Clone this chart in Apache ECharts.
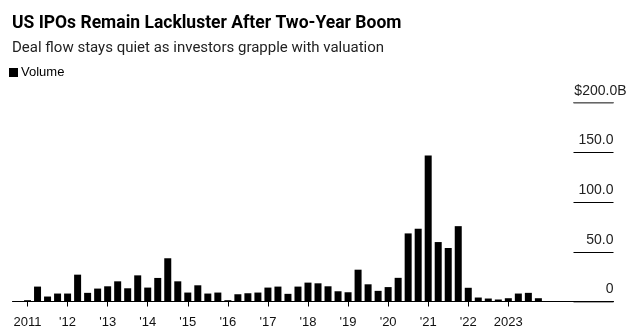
<!DOCTYPE html>
<html>
<head>
<meta charset="utf-8">
<script src="https://cdn.jsdelivr.net/npm/echarts@6/dist/echarts.min.js"></script>
<style>html,body{margin:0;padding:0;background:#fff;}#c{width:635px;height:330px;}</style>
</head>
<body>
<div id="c"></div>
<script>
const years = [2011,2012,2013,2014,2015,2016,2017,2018,2019,2020,2021,2022,2023];
const quarters = ['Q1','Q2','Q3','Q4'];
const volume = [
  1.3, 15, 5, 8,
  8, 27, 8.7, 13,
  15.3, 20.3, 13.3, 26.3,
  14, 23.7, 43.5, 20.3,
  9, 16.3, 8, 9,
  1.3, 7.3, 8.3, 9,
  14, 15, 7.7, 15,
  19, 18.3, 15.3, 10.3,
  9.3, 32, 17.3, 10.7,
  14.5, 23.8, 68.5, 73.2,
  147, 59.8, 53.8, 75.8,
  13.8, 4, 3, 2,
  3.3, 8, 8.7, 3.3
];
const yTicks = [0, 50, 100, 150, 200];
const yTickLabels = ['0', '50.0', '100.0', '150.0', '$200.0B'];
const padBefore = 1, padAfter = 7;

const categories = [];
const values = [];
for (let i = 0; i < padBefore; i++) { categories.push('pre' + i); values.push(null); }
years.forEach((y, yi) => quarters.forEach((q, qi) => {
  categories.push(y + q);
  values.push(volume[yi * 4 + qi]);
}));
for (let i = 0; i < padAfter; i++) { categories.push('post' + i); values.push(null); }

function isYearStart(v) { return /^\d{4}Q1$/.test(v); }
function yearLabel(v) {
  const y = parseInt(v.slice(0, 4));
  if (y === years[0] || y === years[years.length - 1]) return String(y);
  return "'" + String(y).slice(2);
}
const font = "'Liberation Sans', Arial, sans-serif";
const headFont = "Roboto, 'Liberation Sans', Arial, sans-serif";
const chart = echarts.init(document.getElementById('c'), null, {renderer: 'canvas'});
chart.setOption({
  animation: false,
  backgroundColor: '#fff',
  title: [{
    text: 'US IPOs Remain Lackluster After Two-Year Boom',
    left: 7, top: 10,
    textStyle: {fontFamily: headFont, fontWeight: 'bold', fontSize: 17.5, color: '#000'}
  }, {
    text: 'Deal flow stays quiet as investors grapple with valuation',
    left: 7, top: 36,
    textStyle: {fontFamily: headFont, fontWeight: 'normal', fontSize: 15, color: '#222'}
  }],
  legend: {
    left: 4, top: 61, icon: 'rect', itemWidth: 9, itemHeight: 9, itemGap: 10,
    textStyle: {fontFamily: font, fontSize: 13, color: '#000', padding: [0,0,0,-2]},
    data: ['Volume']
  },
  grid: {left: 12.5, right: 21.5, top: 102.7, bottom: 28.5, containLabel: false},
  xAxis: {
    type: 'category', data: categories, boundaryGap: true, z: 5,
    axisLine: {show: true, lineStyle: {color: '#000', width: 1}},
    axisTick: {show: true, alignWithLabel: true, length: 5, lineStyle: {color: '#000'},
      interval: (i, v) => isYearStart(v)},
    axisLabel: {show: true, interval: (i, v) => isYearStart(v), formatter: v => yearLabel(v),
      margin: 14, fontFamily: font, fontSize: 13, color: '#111'},
    splitLine: {show: false}
  },
  yAxis: [{
    type: 'value', position: 'right', min: 0, max: 200, interval: 50,
    axisLine: {show: false},
    axisTick: {show: true, inside: true, length: 40, lineStyle: {color: '#000', width: 1}},
    axisLabel: {show: true, inside: true, margin: 0, verticalAlign: 'bottom', padding: [0,0,5,0],
      fontFamily: font, fontSize: 14, color: '#222',
      formatter: v => v === 200 ? '' : yTickLabels[yTicks.indexOf(v)]},
    splitLine: {show: false}
  }, {
    type: 'value', position: 'right', min: 0, max: 200, interval: 200,
    axisLine: {show: false},
    axisTick: {show: true, inside: true, length: 40, lineStyle: {color: '#888', width: 1.5}},
    axisLabel: {show: true, inside: true, margin: -13, verticalAlign: 'bottom', padding: [0,0,5,0],
      fontFamily: font, fontSize: 14, color: '#222',
      formatter: v => v === 200 ? yTickLabels[yTicks.indexOf(v)] : ''},
    splitLine: {show: false}
  }],
  series: [{
    name: 'Volume', type: 'bar', data: values, barWidth: 7, yAxisIndex: 0,
    itemStyle: {color: '#000'}
  }]
});
</script>
</body>
</html>
